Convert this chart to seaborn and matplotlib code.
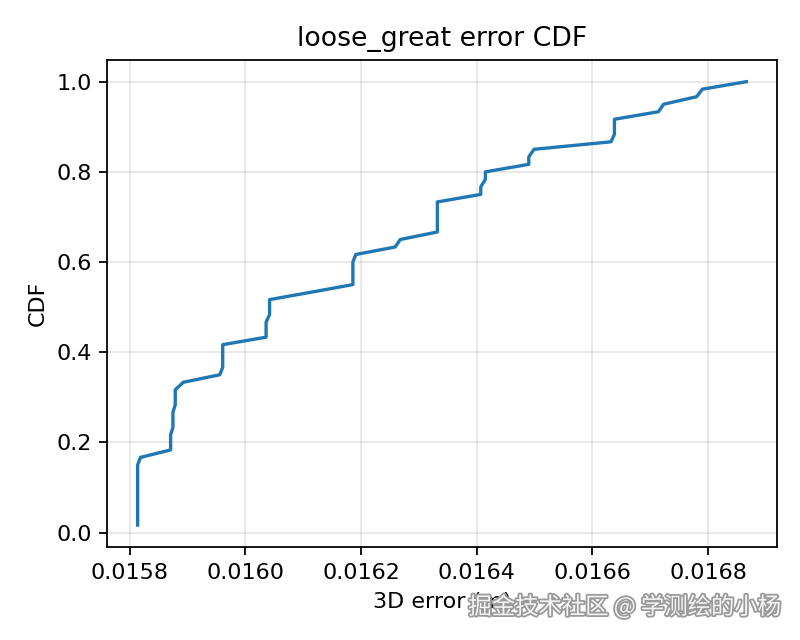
import numpy as np
import pandas as pd
import matplotlib
matplotlib.use("Agg")
import matplotlib.pyplot as plt
import matplotlib.patheffects as pe
import seaborn as sns

# sorted 3D errors (m)
errors = [
    0.015814, 0.015814, 0.015814, 0.015814, 0.015814, 0.015814, 0.015814, 0.015814, 0.015814,
    0.015819, 0.015871, 0.015871, 0.015871, 0.015875, 0.015875, 0.015875, 0.015879, 0.015879,
    0.015879, 0.015893, 0.015956, 0.015961, 0.015961, 0.015961, 0.015961, 0.016036, 0.016036,
    0.016036, 0.016042, 0.016042, 0.016042, 0.016115, 0.016186, 0.016186, 0.016186, 0.016186,
    0.016191, 0.016259, 0.016268, 0.016332, 0.016332, 0.016332, 0.016332, 0.016332, 0.016407,
    0.016407, 0.016415, 0.016415, 0.016490, 0.016490, 0.016499, 0.016632, 0.016638, 0.016638,
    0.016638, 0.016714, 0.016723, 0.016780, 0.016790, 0.016866,
]
title = "loose_great error CDF"
x_label = "3D error (m)"
y_label = "CDF"
watermark = "掘金技术社区 @ 学测绘的小杨"

# empirical CDF
err_sorted = np.sort(np.array(errors))
cdf = np.arange(1, len(err_sorted) + 1) / len(err_sorted)
df = pd.DataFrame({"err": err_sorted, "cdf": cdf})

fig, ax = plt.subplots(figsize=(5, 4), dpi=160)
fig.subplots_adjust(left=0.134, right=0.971, top=0.907, bottom=0.145)
sns.lineplot(data=df, x="err", y="cdf", ax=ax, color="#1f77b4", linewidth=1.5,
             sort=False, estimator=None)
ax.set_title(title)
ax.set_xlabel(x_label)
ax.set_ylabel(y_label)
ax.grid(True, alpha=0.3)
ax.set_xticks([0.0158, 0.0160, 0.0162, 0.0164, 0.0166, 0.0168])

# platform watermark in the lower right corner
fig.text(0.977, 0.052, watermark, ha="right", va="center", fontsize=10.5,
         family=["Noto Sans CJK SC", "DejaVu Sans"], color="#f4f4f4",
         path_effects=[pe.Stroke(linewidth=1.6, foreground="#9a9a9a"), pe.Normal()])

fig.savefig("out.png", dpi=160)
